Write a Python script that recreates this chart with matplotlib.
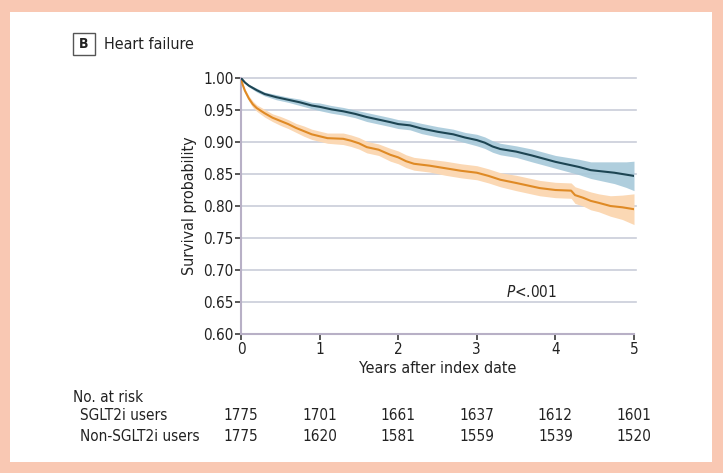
import matplotlib
matplotlib.use("Agg")
import matplotlib.pyplot as plt
from matplotlib.patches import Rectangle
import matplotlib.transforms as mtransforms
from matplotlib import font_manager

names = {f.name for f in font_manager.fontManager.ttflist}
if 'Liberation Sans Narrow' in names:
    plt.rcParams['font.family'] = ['Liberation Sans Narrow', 'DejaVu Sans']
else:
    plt.rcParams['font.family'] = ['DejaVu Sans']
    plt.rcParams['font.stretch'] = 'condensed'

# ---------------- data ----------------
sglt_t = [0, 0.05, 0.1, 0.2, 0.3, 0.45, 0.6, 0.75, 0.9, 1.0, 1.15, 1.3, 1.45, 1.6, 1.75, 1.9, 2.0,
          2.15, 2.3, 2.5, 2.7, 2.85, 3.0, 3.1, 3.2, 3.3, 3.5, 3.7, 3.85, 4.0, 4.15, 4.3, 4.45,
          4.6, 4.75, 4.9, 5.0]
sglt_s = [1.000, 0.993, 0.988, 0.981, 0.975, 0.970, 0.966, 0.962, 0.957, 0.955, 0.951, 0.948,
          0.944, 0.939, 0.935, 0.931, 0.928, 0.926, 0.921, 0.916, 0.912, 0.907, 0.903, 0.899,
          0.893, 0.889, 0.885, 0.879, 0.874, 0.869, 0.865, 0.861, 0.856, 0.854, 0.852, 0.849, 0.847]
sglt_lo = [1.000, 0.992, 0.986, 0.978, 0.972, 0.966, 0.962, 0.957, 0.952, 0.949, 0.945, 0.942,
           0.938, 0.932, 0.928, 0.924, 0.921, 0.919, 0.913, 0.908, 0.904, 0.899, 0.894, 0.890,
           0.884, 0.880, 0.876, 0.869, 0.864, 0.859, 0.854, 0.849, 0.843, 0.839, 0.835, 0.829, 0.824]
sglt_hi = [1.000, 0.994, 0.990, 0.984, 0.978, 0.974, 0.970, 0.967, 0.962, 0.961, 0.957, 0.954,
           0.950, 0.946, 0.942, 0.938, 0.935, 0.933, 0.929, 0.924, 0.920, 0.915, 0.912, 0.908,
           0.902, 0.898, 0.894, 0.889, 0.884, 0.879, 0.876, 0.873, 0.869, 0.869, 0.869, 0.869, 0.870]

non_t = [0, 0.02, 0.05, 0.1, 0.15, 0.2, 0.3, 0.4, 0.5, 0.6, 0.7, 0.8, 0.9, 1.0, 1.1, 1.3, 1.4,
         1.5, 1.6, 1.75, 1.9, 2.0, 2.1, 2.2, 2.4, 2.6, 2.8, 3.0, 3.15, 3.3, 3.5, 3.65, 3.8, 4.0,
         4.2, 4.25, 4.35, 4.45, 4.55, 4.7, 4.85, 5.0]
non_s = [1.000, 0.990, 0.980, 0.968, 0.959, 0.953, 0.945, 0.938, 0.933, 0.928, 0.922, 0.917,
         0.912, 0.909, 0.906, 0.905, 0.902, 0.898, 0.892, 0.888, 0.880, 0.876, 0.870, 0.866,
         0.863, 0.859, 0.855, 0.852, 0.847, 0.841, 0.836, 0.832, 0.828, 0.825, 0.824, 0.817,
         0.813, 0.808, 0.805, 0.800, 0.798, 0.795]
non_lo = [1.000, 0.988, 0.977, 0.964, 0.954, 0.948, 0.939, 0.932, 0.926, 0.921, 0.915, 0.909,
          0.904, 0.901, 0.898, 0.896, 0.893, 0.889, 0.883, 0.879, 0.870, 0.866, 0.860, 0.856,
          0.853, 0.848, 0.844, 0.841, 0.836, 0.830, 0.824, 0.820, 0.816, 0.813, 0.812, 0.804,
          0.800, 0.794, 0.791, 0.784, 0.779, 0.771]
non_hi = [1.000, 0.992, 0.983, 0.972, 0.964, 0.958, 0.951, 0.944, 0.940, 0.935, 0.929, 0.925,
          0.920, 0.917, 0.914, 0.914, 0.911, 0.907, 0.901, 0.897, 0.890, 0.886, 0.880, 0.876,
          0.873, 0.870, 0.866, 0.863, 0.858, 0.852, 0.848, 0.844, 0.840, 0.837, 0.836, 0.830,
          0.826, 0.822, 0.819, 0.816, 0.817, 0.819]

x_ticks = [0, 1, 2, 3, 4, 5]
y_ticks = [0.60, 0.65, 0.70, 0.75, 0.80, 0.85, 0.90, 0.95, 1.00]
groups = ['SGLT2i users', 'Non-SGLT2i users']
at_risk_sglt = [1775, 1701, 1661, 1637, 1612, 1601]
at_risk_non = [1775, 1620, 1581, 1559, 1539, 1520]

# ---------------- figure ----------------
W, H = 723, 473
fig = plt.figure(figsize=(W / 100, H / 100), dpi=100)
fig.patch.set_facecolor('#f9c8b3')

def fx(px):
    return px / W

def fy(py):
    return 1 - py / H

TXT = '#222222'

# inner white panel (background axes)
bg = fig.add_axes([0, 0, 1, 1], zorder=-10)
bg.set_xlim(0, 1)
bg.set_ylim(0, 1)
bg.axis('off')
bg.add_patch(Rectangle((fx(10), fy(462)), fx(712) - fx(10), fy(12) - fy(462),
                       facecolor='white', edgecolor='none'))
# boxed panel letter
bg.add_patch(Rectangle((fx(73), fy(55)), fx(95) - fx(73), fy(33) - fy(55),
                       facecolor='white', edgecolor='#555555', lw=1.0))

ax = fig.add_axes([fx(241), fy(334), fx(634) - fx(241), fy(78) - fy(334)], zorder=1)
ax.set_facecolor('none')

dark = '#1d4553'
band_blue = '#a7c9da'
orange = '#df8a25'
band_or = '#fbd8b4'

ax.fill_between(non_t, non_lo, non_hi, color=band_or, lw=0, zorder=2)
ax.fill_between(sglt_t, sglt_lo, sglt_hi, color=band_blue, lw=0, alpha=0.9, zorder=3)
ax.plot(non_t, non_s, color=orange, lw=1.5, zorder=4)
ax.plot(sglt_t, sglt_s, color=dark, lw=1.5, zorder=5)

ax.set_xlim(0, 5)
ax.set_ylim(0.6, 1.0)
ax.set_xticks(x_ticks)
ax.set_xticklabels([str(v) for v in x_ticks])
ax.set_yticks(y_ticks)
ax.set_yticklabels([f'{v:.2f}' for v in y_ticks])

for v in y_ticks[1:]:
    ax.axhline(v, xmin=0, xmax=1.005, color='#c9cdd9', lw=1.2, zorder=1, clip_on=False)

for s in ['top', 'right']:
    ax.spines[s].set_visible(False)
for s in ['left', 'bottom']:
    ax.spines[s].set_color('#b8b0c6')
    ax.spines[s].set_linewidth(1.5)

ax.tick_params(axis='both', direction='out', length=4, width=1.2, color='#3a3a3a',
               labelsize=11, labelcolor=TXT, pad=1.5)

ax.set_ylabel('Survival probability', fontsize=11.5, color=TXT, labelpad=4)
ax.set_xlabel('Years after index date', fontsize=11.5, color=TXT, labelpad=3)

ax.text(3.7, 0.666, r'$\it{P}$<.001', fontsize=11, color=TXT, ha='center', va='center')

# title
fig.text(fx(84), fy(44.5), 'B', fontsize=10, fontweight='bold', ha='center', va='center',
         color=TXT)
fig.text(fx(104), fy(44.5), 'Heart failure', fontsize=11.5, ha='left', va='center', color=TXT)

# risk table
fig.text(fx(73), fy(397), 'No. at risk', fontsize=11, ha='left', va='center', color=TXT)
fig.text(fx(80), fy(415), groups[0], fontsize=11, ha='left', va='center', color=TXT)
fig.text(fx(80), fy(436), groups[1], fontsize=11, ha='left', va='center', color=TXT)
trans = mtransforms.blended_transform_factory(ax.transData, fig.transFigure)
for xv, a, b in zip(x_ticks, at_risk_sglt, at_risk_non):
    ax.text(xv, fy(415), str(a), transform=trans, fontsize=11, ha='center', va='center',
            color=TXT, clip_on=False)
    ax.text(xv, fy(436), str(b), transform=trans, fontsize=11, ha='center', va='center',
            color=TXT, clip_on=False)

fig.savefig('out.png', dpi=100, facecolor=fig.get_facecolor())
